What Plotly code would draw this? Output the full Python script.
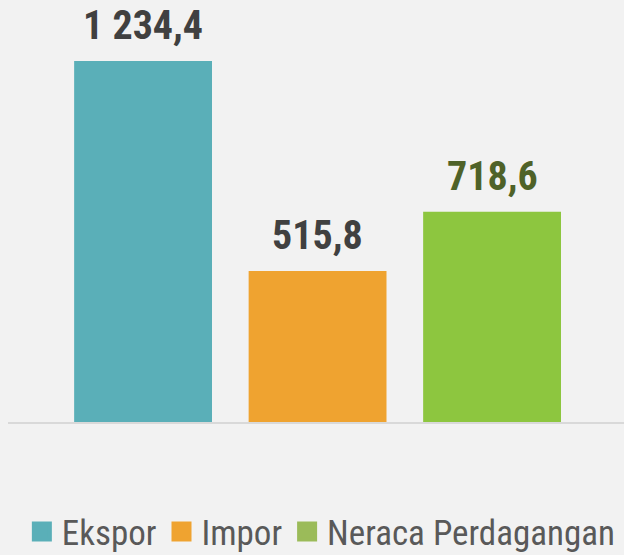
import plotly.graph_objects as go

categories = ["Ekspor", "Impor", "Neraca Perdagangan"]
values = [1234.4, 515.8, 718.6]
value_labels = ["1 234,4", "515,8", "718,6"]
bar_colors = ["#5aafb8", "#efa330", "#8dc63f"]
legend_colors = ["#5aafb8", "#efa330", "#9bbb59"]
label_colors = ["#404040", "#404040", "#4f6228"]

FONT = "Liberation Sans Narrow, Arial Narrow, Roboto Condensed, Roboto, sans-serif"

fig = go.Figure()
fig.add_trace(go.Bar(
    x=categories, y=values, marker=dict(color=bar_colors, line=dict(width=0)),
    width=0.79, showlegend=False, hoverinfo="skip",
))
for cat, col in zip(categories, legend_colors):
    fig.add_trace(go.Scatter(
        x=[None], y=[None], mode="markers", name=cat,
        marker=dict(symbol="square", size=16, color=col, line=dict(color=col, width=4)),
    ))

for cat, v, lab, col in zip(categories, values, value_labels, label_colors):
    fig.add_annotation(
        x=cat, y=v, text=f"<b>{lab}</b>", showarrow=False,
        yanchor="bottom", yshift=10,
        font=dict(family=FONT, size=40, color=col),
    )

fig.update_layout(
    width=624, height=555,
    paper_bgcolor="#f2f2f2", plot_bgcolor="#f2f2f2",
    margin=dict(l=8, r=0, t=0, b=133, autoexpand=False),
    xaxis=dict(range=[-0.774, 2.756], showticklabels=False, ticks="",
               showgrid=False, zeroline=False, showline=True,
               linecolor="#d9d9d9", linewidth=2),
    yaxis=dict(range=[0, 1442.7], visible=False),
    legend=dict(orientation="h", xref="container", yref="container",
                x=0.515, xanchor="center", y=0.042, yanchor="middle",
                font=dict(family=FONT, size=35, color="#595959"),
                itemwidth=30, tracegroupgap=0, bgcolor="rgba(0,0,0,0)"),
    font=dict(family=FONT),
)

fig.write_html("out.html", config={"displayModeBar": False},
               post_script="document.body.style.margin='0';document.body.style.background='#f2f2f2';")
